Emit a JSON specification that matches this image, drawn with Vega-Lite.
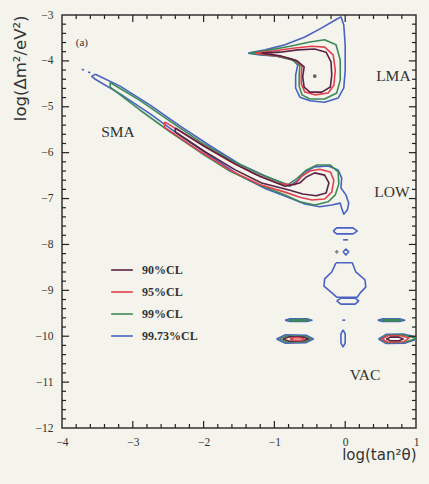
{
  "$schema": "https://vega.github.io/schema/vega-lite/v6.json",
  "width": 354,
  "height": 413,
  "autosize": {"type": "none"},
  "padding": {"left": 62, "top": 15, "right": 13, "bottom": 56},
  "background": "#f4f3ec",
  "config": {
    "view": {"stroke": "#333", "strokeWidth": 1.5},
    "axis": {"domain": false, "ticks": false, "tickSize": 0, "labelFont": "Liberation Serif", "labelFontSize": 11.5, "labelColor": "#333", "titleFont": "DejaVu Sans", "titleFontSize": 15, "titleFontWeight": "normal", "titleColor": "#333", "grid": false, "labelOverlap": false, "labelFlush": false},
    "rule": {"color": "#222", "strokeWidth": 1.2}
  },
  "datasets": {
    "contours": [
      {"c":"lma-b","l":"99.73%CL","x":-1.37,"y":-3.83},{"c":"lma-b","l":"99.73%CL","x":-1.13,"y":-3.76},{"c":"lma-b","l":"99.73%CL","x":-0.85,"y":-3.65},{"c":"lma-b","l":"99.73%CL","x":-0.57,"y":-3.48},{"c":"lma-b","l":"99.73%CL","x":-0.33,"y":-3.28},{"c":"lma-b","l":"99.73%CL","x":-0.14,"y":-3.11},{"c":"lma-b","l":"99.73%CL","x":-0.06,"y":-3.04},{"c":"lma-b","l":"99.73%CL","x":-0.02,"y":-3.22},{"c":"lma-b","l":"99.73%CL","x":0.0,"y":-3.65},{"c":"lma-b","l":"99.73%CL","x":0.0,"y":-4.2},{"c":"lma-b","l":"99.73%CL","x":-0.02,"y":-4.59},{"c":"lma-b","l":"99.73%CL","x":-0.1,"y":-4.81},{"c":"lma-b","l":"99.73%CL","x":-0.29,"y":-4.9},{"c":"lma-b","l":"99.73%CL","x":-0.5,"y":-4.87},{"c":"lma-b","l":"99.73%CL","x":-0.64,"y":-4.79},{"c":"lma-b","l":"99.73%CL","x":-0.7,"y":-4.59},{"c":"lma-b","l":"99.73%CL","x":-0.7,"y":-4.31},{"c":"lma-b","l":"99.73%CL","x":-0.67,"y":-4.09},{"c":"lma-b","l":"99.73%CL","x":-0.75,"y":-3.96},{"c":"lma-b","l":"99.73%CL","x":-0.99,"y":-3.89},{"c":"lma-b","l":"99.73%CL","x":-1.2,"y":-3.87},{"c":"lma-b","l":"99.73%CL","x":-1.37,"y":-3.83},
      {"c":"lma-g","l":"99%CL","x":-1.35,"y":-3.83},{"c":"lma-g","l":"99%CL","x":-1.06,"y":-3.76},{"c":"lma-g","l":"99%CL","x":-0.78,"y":-3.68},{"c":"lma-g","l":"99%CL","x":-0.5,"y":-3.59},{"c":"lma-g","l":"99%CL","x":-0.29,"y":-3.54},{"c":"lma-g","l":"99%CL","x":-0.13,"y":-3.65},{"c":"lma-g","l":"99%CL","x":-0.07,"y":-3.98},{"c":"lma-g","l":"99%CL","x":-0.07,"y":-4.42},{"c":"lma-g","l":"99%CL","x":-0.12,"y":-4.7},{"c":"lma-g","l":"99%CL","x":-0.29,"y":-4.83},{"c":"lma-g","l":"99%CL","x":-0.5,"y":-4.83},{"c":"lma-g","l":"99%CL","x":-0.61,"y":-4.74},{"c":"lma-g","l":"99%CL","x":-0.65,"y":-4.55},{"c":"lma-g","l":"99%CL","x":-0.65,"y":-4.31},{"c":"lma-g","l":"99%CL","x":-0.64,"y":-4.11},{"c":"lma-g","l":"99%CL","x":-0.75,"y":-3.98},{"c":"lma-g","l":"99%CL","x":-0.99,"y":-3.89},{"c":"lma-g","l":"99%CL","x":-1.35,"y":-3.83},
      {"c":"lma-r","l":"95%CL","x":-1.27,"y":-3.83},{"c":"lma-r","l":"95%CL","x":-0.99,"y":-3.78},{"c":"lma-r","l":"95%CL","x":-0.71,"y":-3.72},{"c":"lma-r","l":"95%CL","x":-0.47,"y":-3.68},{"c":"lma-r","l":"95%CL","x":-0.29,"y":-3.7},{"c":"lma-r","l":"95%CL","x":-0.17,"y":-3.87},{"c":"lma-r","l":"95%CL","x":-0.14,"y":-4.2},{"c":"lma-r","l":"95%CL","x":-0.16,"y":-4.53},{"c":"lma-r","l":"95%CL","x":-0.24,"y":-4.7},{"c":"lma-r","l":"95%CL","x":-0.43,"y":-4.74},{"c":"lma-r","l":"95%CL","x":-0.57,"y":-4.68},{"c":"lma-r","l":"95%CL","x":-0.62,"y":-4.5},{"c":"lma-r","l":"95%CL","x":-0.62,"y":-4.29},{"c":"lma-r","l":"95%CL","x":-0.61,"y":-4.11},{"c":"lma-r","l":"95%CL","x":-0.71,"y":-3.98},{"c":"lma-r","l":"95%CL","x":-0.95,"y":-3.89},{"c":"lma-r","l":"95%CL","x":-1.27,"y":-3.83},
      {"c":"lma-k","l":"90%CL","x":-1.18,"y":-3.83},{"c":"lma-k","l":"90%CL","x":-0.92,"y":-3.81},{"c":"lma-k","l":"90%CL","x":-0.67,"y":-3.76},{"c":"lma-k","l":"90%CL","x":-0.43,"y":-3.74},{"c":"lma-k","l":"90%CL","x":-0.27,"y":-3.81},{"c":"lma-k","l":"90%CL","x":-0.2,"y":-4.02},{"c":"lma-k","l":"90%CL","x":-0.19,"y":-4.31},{"c":"lma-k","l":"90%CL","x":-0.21,"y":-4.57},{"c":"lma-k","l":"90%CL","x":-0.33,"y":-4.68},{"c":"lma-k","l":"90%CL","x":-0.5,"y":-4.68},{"c":"lma-k","l":"90%CL","x":-0.58,"y":-4.57},{"c":"lma-k","l":"90%CL","x":-0.6,"y":-4.35},{"c":"lma-k","l":"90%CL","x":-0.58,"y":-4.13},{"c":"lma-k","l":"90%CL","x":-0.68,"y":-4.0},{"c":"lma-k","l":"90%CL","x":-0.92,"y":-3.89},{"c":"lma-k","l":"90%CL","x":-1.18,"y":-3.83},
      {"c":"low-b","l":"99.73%CL","x":-3.53,"y":-4.29},{"c":"low-b","l":"99.73%CL","x":-3.18,"y":-4.55},{"c":"low-b","l":"99.73%CL","x":-2.76,"y":-4.96},{"c":"low-b","l":"99.73%CL","x":-2.33,"y":-5.42},{"c":"low-b","l":"99.73%CL","x":-1.91,"y":-5.85},{"c":"low-b","l":"99.73%CL","x":-1.49,"y":-6.25},{"c":"low-b","l":"99.73%CL","x":-1.13,"y":-6.51},{"c":"low-b","l":"99.73%CL","x":-0.78,"y":-6.73},{"c":"low-b","l":"99.73%CL","x":-0.67,"y":-6.6},{"c":"low-b","l":"99.73%CL","x":-0.57,"y":-6.42},{"c":"low-b","l":"99.73%CL","x":-0.43,"y":-6.31},{"c":"low-b","l":"99.73%CL","x":-0.24,"y":-6.29},{"c":"low-b","l":"99.73%CL","x":-0.1,"y":-6.38},{"c":"low-b","l":"99.73%CL","x":-0.05,"y":-6.55},{"c":"low-b","l":"99.73%CL","x":-0.06,"y":-6.77},{"c":"low-b","l":"99.73%CL","x":0.01,"y":-6.92},{"c":"low-b","l":"99.73%CL","x":0.05,"y":-7.1},{"c":"low-b","l":"99.73%CL","x":0.03,"y":-7.25},{"c":"low-b","l":"99.73%CL","x":-0.02,"y":-7.34},{"c":"low-b","l":"99.73%CL","x":-0.05,"y":-7.21},{"c":"low-b","l":"99.73%CL","x":-0.07,"y":-7.1},{"c":"low-b","l":"99.73%CL","x":-0.19,"y":-7.14},{"c":"low-b","l":"99.73%CL","x":-0.36,"y":-7.18},{"c":"low-b","l":"99.73%CL","x":-0.57,"y":-7.12},{"c":"low-b","l":"99.73%CL","x":-0.78,"y":-6.99},{"c":"low-b","l":"99.73%CL","x":-1.13,"y":-6.78},{"c":"low-b","l":"99.73%CL","x":-1.49,"y":-6.5},{"c":"low-b","l":"99.73%CL","x":-1.91,"y":-6.07},{"c":"low-b","l":"99.73%CL","x":-2.33,"y":-5.63},{"c":"low-b","l":"99.73%CL","x":-2.76,"y":-5.15},{"c":"low-b","l":"99.73%CL","x":-3.18,"y":-4.72},{"c":"low-b","l":"99.73%CL","x":-3.53,"y":-4.4},{"c":"low-b","l":"99.73%CL","x":-3.58,"y":-4.34},{"c":"low-b","l":"99.73%CL","x":-3.53,"y":-4.29},
      {"c":"low-g","l":"99%CL","x":-3.32,"y":-4.47},{"c":"low-g","l":"99%CL","x":-2.9,"y":-4.86},{"c":"low-g","l":"99%CL","x":-2.47,"y":-5.32},{"c":"low-g","l":"99%CL","x":-2.05,"y":-5.76},{"c":"low-g","l":"99%CL","x":-1.63,"y":-6.15},{"c":"low-g","l":"99%CL","x":-1.2,"y":-6.47},{"c":"low-g","l":"99%CL","x":-0.81,"y":-6.7},{"c":"low-g","l":"99%CL","x":-0.67,"y":-6.55},{"c":"low-g","l":"99%CL","x":-0.55,"y":-6.38},{"c":"low-g","l":"99%CL","x":-0.4,"y":-6.27},{"c":"low-g","l":"99%CL","x":-0.21,"y":-6.27},{"c":"low-g","l":"99%CL","x":-0.1,"y":-6.42},{"c":"low-g","l":"99%CL","x":-0.09,"y":-6.68},{"c":"low-g","l":"99%CL","x":-0.14,"y":-6.92},{"c":"low-g","l":"99%CL","x":-0.24,"y":-7.07},{"c":"low-g","l":"99%CL","x":-0.43,"y":-7.14},{"c":"low-g","l":"99%CL","x":-0.64,"y":-7.07},{"c":"low-g","l":"99%CL","x":-0.85,"y":-6.92},{"c":"low-g","l":"99%CL","x":-1.2,"y":-6.71},{"c":"low-g","l":"99%CL","x":-1.63,"y":-6.4},{"c":"low-g","l":"99%CL","x":-2.05,"y":-5.99},{"c":"low-g","l":"99%CL","x":-2.47,"y":-5.55},{"c":"low-g","l":"99%CL","x":-2.9,"y":-5.07},{"c":"low-g","l":"99%CL","x":-3.32,"y":-4.57},{"c":"low-g","l":"99%CL","x":-3.32,"y":-4.47},
      {"c":"low-r","l":"95%CL","x":-2.55,"y":-5.33},{"c":"low-r","l":"95%CL","x":-2.05,"y":-5.8},{"c":"low-r","l":"95%CL","x":-1.63,"y":-6.19},{"c":"low-r","l":"95%CL","x":-1.27,"y":-6.47},{"c":"low-r","l":"95%CL","x":-0.92,"y":-6.68},{"c":"low-r","l":"95%CL","x":-0.71,"y":-6.7},{"c":"low-r","l":"95%CL","x":-0.61,"y":-6.51},{"c":"low-r","l":"95%CL","x":-0.5,"y":-6.4},{"c":"low-r","l":"95%CL","x":-0.36,"y":-6.36},{"c":"low-r","l":"95%CL","x":-0.21,"y":-6.42},{"c":"low-r","l":"95%CL","x":-0.16,"y":-6.6},{"c":"low-r","l":"95%CL","x":-0.19,"y":-6.86},{"c":"low-r","l":"95%CL","x":-0.29,"y":-7.01},{"c":"low-r","l":"95%CL","x":-0.47,"y":-7.03},{"c":"low-r","l":"95%CL","x":-0.64,"y":-6.97},{"c":"low-r","l":"95%CL","x":-0.85,"y":-6.86},{"c":"low-r","l":"95%CL","x":-1.2,"y":-6.7},{"c":"low-r","l":"95%CL","x":-1.63,"y":-6.38},{"c":"low-r","l":"95%CL","x":-2.05,"y":-5.97},{"c":"low-r","l":"95%CL","x":-2.55,"y":-5.45},{"c":"low-r","l":"95%CL","x":-2.55,"y":-5.33},
      {"c":"low-k","l":"90%CL","x":-2.4,"y":-5.46},{"c":"low-k","l":"90%CL","x":-1.98,"y":-5.87},{"c":"low-k","l":"90%CL","x":-1.56,"y":-6.24},{"c":"low-k","l":"90%CL","x":-1.2,"y":-6.52},{"c":"low-k","l":"90%CL","x":-0.85,"y":-6.73},{"c":"low-k","l":"90%CL","x":-0.64,"y":-6.66},{"c":"low-k","l":"90%CL","x":-0.55,"y":-6.53},{"c":"low-k","l":"90%CL","x":-0.43,"y":-6.44},{"c":"low-k","l":"90%CL","x":-0.29,"y":-6.49},{"c":"low-k","l":"90%CL","x":-0.23,"y":-6.66},{"c":"low-k","l":"90%CL","x":-0.27,"y":-6.88},{"c":"low-k","l":"90%CL","x":-0.41,"y":-6.94},{"c":"low-k","l":"90%CL","x":-0.6,"y":-6.9},{"c":"low-k","l":"90%CL","x":-0.78,"y":-6.82},{"c":"low-k","l":"90%CL","x":-1.18,"y":-6.66},{"c":"low-k","l":"90%CL","x":-1.56,"y":-6.37},{"c":"low-k","l":"90%CL","x":-1.98,"y":-5.98},{"c":"low-k","l":"90%CL","x":-2.4,"y":-5.55},{"c":"low-k","l":"90%CL","x":-2.4,"y":-5.46},
      {"c":"dot1","l":"99.73%CL","x":-3.72,"y":-4.18},{"c":"dot1","l":"99.73%CL","x":-3.69,"y":-4.2},
      {"c":"dot2","l":"99.73%CL","x":-3.63,"y":-4.24},{"c":"dot2","l":"99.73%CL","x":-3.6,"y":-4.26},
      {"c":"v-oval1","l":"99.73%CL","x":-0.17,"y":-7.71},{"c":"v-oval1","l":"99.73%CL","x":-0.12,"y":-7.64},{"c":"v-oval1","l":"99.73%CL","x":0.11,"y":-7.64},{"c":"v-oval1","l":"99.73%CL","x":0.17,"y":-7.71},{"c":"v-oval1","l":"99.73%CL","x":0.11,"y":-7.77},{"c":"v-oval1","l":"99.73%CL","x":-0.12,"y":-7.77},{"c":"v-oval1","l":"99.73%CL","x":-0.17,"y":-7.71},
      {"c":"v-dash","l":"99.73%CL","x":-0.03,"y":-7.9},{"c":"v-dash","l":"99.73%CL","x":0.04,"y":-7.9},
      {"c":"v-ring","l":"99.73%CL","x":-0.03,"y":-8.16},{"c":"v-ring","l":"99.73%CL","x":0.01,"y":-8.1},{"c":"v-ring","l":"99.73%CL","x":0.05,"y":-8.16},{"c":"v-ring","l":"99.73%CL","x":0.01,"y":-8.23},{"c":"v-ring","l":"99.73%CL","x":-0.03,"y":-8.16},
      {"c":"v-bell","l":"99.73%CL","x":-0.13,"y":-8.4},{"c":"v-bell","l":"99.73%CL","x":0.1,"y":-8.4},{"c":"v-bell","l":"99.73%CL","x":0.15,"y":-8.6},{"c":"v-bell","l":"99.73%CL","x":0.28,"y":-8.77},{"c":"v-bell","l":"99.73%CL","x":0.29,"y":-8.93},{"c":"v-bell","l":"99.73%CL","x":0.21,"y":-9.06},{"c":"v-bell","l":"99.73%CL","x":0.17,"y":-9.15},{"c":"v-bell","l":"99.73%CL","x":-0.12,"y":-9.15},{"c":"v-bell","l":"99.73%CL","x":-0.2,"y":-9.04},{"c":"v-bell","l":"99.73%CL","x":-0.3,"y":-8.91},{"c":"v-bell","l":"99.73%CL","x":-0.29,"y":-8.75},{"c":"v-bell","l":"99.73%CL","x":-0.19,"y":-8.6},{"c":"v-bell","l":"99.73%CL","x":-0.13,"y":-8.4},
      {"c":"v-oval2","l":"99.73%CL","x":-0.12,"y":-9.23},{"c":"v-oval2","l":"99.73%CL","x":-0.06,"y":-9.17},{"c":"v-oval2","l":"99.73%CL","x":0.14,"y":-9.17},{"c":"v-oval2","l":"99.73%CL","x":0.19,"y":-9.23},{"c":"v-oval2","l":"99.73%CL","x":0.14,"y":-9.3},{"c":"v-oval2","l":"99.73%CL","x":-0.06,"y":-9.3},{"c":"v-oval2","l":"99.73%CL","x":-0.12,"y":-9.23},
      {"c":"v-d1b","l":"99.73%CL","x":-0.85,"y":-9.65},{"c":"v-d1b","l":"99.73%CL","x":-0.78,"y":-9.62},{"c":"v-d1b","l":"99.73%CL","x":-0.54,"y":-9.62},{"c":"v-d1b","l":"99.73%CL","x":-0.47,"y":-9.65},{"c":"v-d1b","l":"99.73%CL","x":-0.54,"y":-9.68},{"c":"v-d1b","l":"99.73%CL","x":-0.78,"y":-9.68},{"c":"v-d1b","l":"99.73%CL","x":-0.85,"y":-9.65},
      {"c":"v-d1g","l":"99%CL","x":-0.8,"y":-9.65},{"c":"v-d1g","l":"99%CL","x":-0.74,"y":-9.635},{"c":"v-d1g","l":"99%CL","x":-0.58,"y":-9.635},{"c":"v-d1g","l":"99%CL","x":-0.52,"y":-9.65},{"c":"v-d1g","l":"99%CL","x":-0.58,"y":-9.665},{"c":"v-d1g","l":"99%CL","x":-0.74,"y":-9.665},{"c":"v-d1g","l":"99%CL","x":-0.8,"y":-9.65},
      {"c":"v-dot","l":"99.73%CL","x":-0.04,"y":-9.65},{"c":"v-dot","l":"99.73%CL","x":0.0,"y":-9.65},
      {"c":"v-d2b","l":"99.73%CL","x":0.46,"y":-9.65},{"c":"v-d2b","l":"99.73%CL","x":0.53,"y":-9.62},{"c":"v-d2b","l":"99.73%CL","x":0.77,"y":-9.62},{"c":"v-d2b","l":"99.73%CL","x":0.84,"y":-9.65},{"c":"v-d2b","l":"99.73%CL","x":0.77,"y":-9.68},{"c":"v-d2b","l":"99.73%CL","x":0.53,"y":-9.68},{"c":"v-d2b","l":"99.73%CL","x":0.46,"y":-9.65},
      {"c":"v-d2g","l":"99%CL","x":0.51,"y":-9.65},{"c":"v-d2g","l":"99%CL","x":0.57,"y":-9.635},{"c":"v-d2g","l":"99%CL","x":0.73,"y":-9.635},{"c":"v-d2g","l":"99%CL","x":0.79,"y":-9.65},{"c":"v-d2g","l":"99%CL","x":0.73,"y":-9.665},{"c":"v-d2g","l":"99%CL","x":0.57,"y":-9.665},{"c":"v-d2g","l":"99%CL","x":0.51,"y":-9.65},
      {"c":"v-l1b","l":"99.73%CL","x":-0.97,"y":-10.06},{"c":"v-l1b","l":"99.73%CL","x":-0.85,"y":-9.97},{"c":"v-l1b","l":"99.73%CL","x":-0.55,"y":-9.98},{"c":"v-l1b","l":"99.73%CL","x":-0.45,"y":-10.06},{"c":"v-l1b","l":"99.73%CL","x":-0.55,"y":-10.14},{"c":"v-l1b","l":"99.73%CL","x":-0.85,"y":-10.15},{"c":"v-l1b","l":"99.73%CL","x":-0.97,"y":-10.06},
      {"c":"v-l1g","l":"99%CL","x":-0.93,"y":-10.06},{"c":"v-l1g","l":"99%CL","x":-0.83,"y":-9.99},{"c":"v-l1g","l":"99%CL","x":-0.56,"y":-10.0},{"c":"v-l1g","l":"99%CL","x":-0.48,"y":-10.06},{"c":"v-l1g","l":"99%CL","x":-0.56,"y":-10.12},{"c":"v-l1g","l":"99%CL","x":-0.83,"y":-10.13},{"c":"v-l1g","l":"99%CL","x":-0.93,"y":-10.06},
      {"c":"v-l1k","l":"90%CL","x":-0.88,"y":-10.06},{"c":"v-l1k","l":"90%CL","x":-0.79,"y":-10.01},{"c":"v-l1k","l":"90%CL","x":-0.59,"y":-10.02},{"c":"v-l1k","l":"90%CL","x":-0.52,"y":-10.06},{"c":"v-l1k","l":"90%CL","x":-0.59,"y":-10.1},{"c":"v-l1k","l":"90%CL","x":-0.79,"y":-10.11},{"c":"v-l1k","l":"90%CL","x":-0.88,"y":-10.06},
      {"c":"v-l1r","l":"95%CL","x":-0.78,"y":-10.06},{"c":"v-l1r","l":"95%CL","x":-0.71,"y":-10.03},{"c":"v-l1r","l":"95%CL","x":-0.62,"y":-10.04},{"c":"v-l1r","l":"95%CL","x":-0.58,"y":-10.07},{"c":"v-l1r","l":"95%CL","x":-0.63,"y":-10.09},{"c":"v-l1r","l":"95%CL","x":-0.72,"y":-10.09},{"c":"v-l1r","l":"95%CL","x":-0.78,"y":-10.06},
      {"c":"v-cb","l":"99.73%CL","x":-0.03,"y":-9.86},{"c":"v-cb","l":"99.73%CL","x":0.0,"y":-9.95},{"c":"v-cb","l":"99.73%CL","x":0.0,"y":-10.15},{"c":"v-cb","l":"99.73%CL","x":-0.03,"y":-10.23},{"c":"v-cb","l":"99.73%CL","x":-0.06,"y":-10.15},{"c":"v-cb","l":"99.73%CL","x":-0.06,"y":-9.95},{"c":"v-cb","l":"99.73%CL","x":-0.03,"y":-9.86},
      {"c":"v-rb","l":"99.73%CL","x":0.47,"y":-10.06},{"c":"v-rb","l":"99.73%CL","x":0.58,"y":-9.96},{"c":"v-rb","l":"99.73%CL","x":0.82,"y":-9.95},{"c":"v-rb","l":"99.73%CL","x":1.0,"y":-10.02},{"c":"v-rb","l":"99.73%CL","x":1.0,"y":-10.07},{"c":"v-rb","l":"99.73%CL","x":0.85,"y":-10.15},{"c":"v-rb","l":"99.73%CL","x":0.58,"y":-10.16},{"c":"v-rb","l":"99.73%CL","x":0.47,"y":-10.06},
      {"c":"v-rg","l":"99%CL","x":0.5,"y":-10.06},{"c":"v-rg","l":"99%CL","x":0.59,"y":-9.98},{"c":"v-rg","l":"99%CL","x":0.81,"y":-9.97},{"c":"v-rg","l":"99%CL","x":0.98,"y":-10.03},{"c":"v-rg","l":"99%CL","x":0.98,"y":-10.06},{"c":"v-rg","l":"99%CL","x":0.84,"y":-10.13},{"c":"v-rg","l":"99%CL","x":0.59,"y":-10.14},{"c":"v-rg","l":"99%CL","x":0.5,"y":-10.06},
      {"c":"v-rr","l":"95%CL","x":0.52,"y":-10.06},{"c":"v-rr","l":"95%CL","x":0.6,"y":-9.99},{"c":"v-rr","l":"95%CL","x":0.79,"y":-9.99},{"c":"v-rr","l":"95%CL","x":0.9,"y":-10.04},{"c":"v-rr","l":"95%CL","x":0.83,"y":-10.12},{"c":"v-rr","l":"95%CL","x":0.6,"y":-10.13},{"c":"v-rr","l":"95%CL","x":0.52,"y":-10.06},
      {"c":"v-rk","l":"90%CL","x":0.58,"y":-10.06},{"c":"v-rk","l":"90%CL","x":0.64,"y":-10.02},{"c":"v-rk","l":"90%CL","x":0.76,"y":-10.02},{"c":"v-rk","l":"90%CL","x":0.82,"y":-10.06},{"c":"v-rk","l":"90%CL","x":0.76,"y":-10.1},{"c":"v-rk","l":"90%CL","x":0.64,"y":-10.1},{"c":"v-rk","l":"90%CL","x":0.58,"y":-10.06}
    ],
    "labels": [
      {"t":"(a)","x":-3.72,"y":-3.61,"s":11},
      {"t":"LMA","x":0.68,"y":-4.33,"s":15.5},
      {"t":"LOW","x":0.66,"y":-6.86,"s":15.5},
      {"t":"SMA","x":-3.21,"y":-5.55,"s":15.5},
      {"t":"VAC","x":0.28,"y":-10.84,"s":15.5}
    ],
    "fit": [{"x":-0.43,"y":-4.33}],
    "plus": [{"x":-0.12,"y":-8.16}],
    "xmaj": [{"v":-3},{"v":-2},{"v":-1},{"v":0}],
    "xmin": [{"v":-3.8},{"v":-3.6},{"v":-3.4},{"v":-3.2},{"v":-2.8},{"v":-2.6},{"v":-2.4},{"v":-2.2},{"v":-1.8},{"v":-1.6},{"v":-1.4},{"v":-1.2},{"v":-0.8},{"v":-0.6},{"v":-0.4},{"v":-0.2},{"v":0.2},{"v":0.4},{"v":0.6},{"v":0.8}],
    "ymaj": [{"v":-11},{"v":-10},{"v":-9},{"v":-8},{"v":-7},{"v":-6},{"v":-5},{"v":-4}],
    "ymin": [{"v":-11.8},{"v":-11.6},{"v":-11.4},{"v":-11.2},{"v":-10.8},{"v":-10.6},{"v":-10.4},{"v":-10.2},{"v":-9.8},{"v":-9.6},{"v":-9.4},{"v":-9.2},{"v":-8.8},{"v":-8.6},{"v":-8.4},{"v":-8.2},{"v":-7.8},{"v":-7.6},{"v":-7.4},{"v":-7.2},{"v":-6.8},{"v":-6.6},{"v":-6.4},{"v":-6.2},{"v":-5.8},{"v":-5.6},{"v":-5.4},{"v":-5.2},{"v":-4.8},{"v":-4.6},{"v":-4.4},{"v":-4.2},{"v":-3.8},{"v":-3.6},{"v":-3.4},{"v":-3.2}]
  },
  "layer": [
    {
      "data": {"name": "contours"},
      "mark": {"type": "line", "strokeWidth": 1.6, "clip": true, "strokeJoin": "round"},
      "encoding": {
        "x": {"field": "x", "type": "quantitative", "scale": {"domain": [-4, 1], "nice": false, "zero": false},
          "axis": {"orient": "bottom", "values": [-4,-3,-2,-1,0,1], "format": "d", "labelPadding": 8, "title": "log(tan²θ)", "titleAnchor": "end", "titlePadding": 0}},
        "y": {"field": "y", "type": "quantitative", "scale": {"domain": [-12, -3], "nice": false, "zero": false},
          "axis": {"orient": "left", "values": [-12,-11,-10,-9,-8,-7,-6,-5,-4,-3], "format": "d", "labelPadding": 9, "title": "log(Δm²/eV²)", "titleFontSize": 16.5, "titleAnchor": "end", "titlePadding": 7}},
        "color": {"field": "l", "type": "nominal",
          "scale": {"domain": ["90%CL", "95%CL", "99%CL", "99.73%CL"], "range": ["#5a2343", "#e0424c", "#3d8a58", "#4a62c4"]},
          "legend": {"orient": "none", "legendX": 48, "legendY": 243, "title": null, "symbolType": "stroke", "symbolSize": 470, "symbolStrokeWidth": 1.6, "labelFont": "Liberation Serif", "labelFontSize": 12, "labelFontWeight": "bold", "labelColor": "#333", "rowPadding": 4, "labelOffset": 8}},
        "detail": {"field": "c", "type": "nominal"},
        "order": {"value": null}
      }
    },
    {
      "data": {"name": "labels"},
      "mark": {"type": "text", "font": "Liberation Serif", "color": "#333", "align": "center", "baseline": "middle"},
      "encoding": {
        "x": {"field": "x", "type": "quantitative", "axis": null},
        "y": {"field": "y", "type": "quantitative", "axis": null},
        "text": {"field": "t", "type": "nominal"},
        "size": {"field": "s", "type": "quantitative", "scale": null}
      }
    },
    {
      "data": {"name": "fit"},
      "mark": {"type": "point", "filled": true, "color": "#222", "shape": "circle", "size": 14},
      "encoding": {
        "x": {"field": "x", "type": "quantitative", "axis": null},
        "y": {"field": "y", "type": "quantitative", "axis": null}
      }
    },
    {
      "data": {"name": "plus"},
      "mark": {"type": "point", "filled": true, "color": "#555", "shape": "cross", "size": 14},
      "encoding": {
        "x": {"field": "x", "type": "quantitative", "axis": null},
        "y": {"field": "y", "type": "quantitative", "axis": null}
      }
    },
    {
      "data": {"name": "xmaj"},
      "mark": {"type": "rule"},
      "encoding": {"x": {"field": "v", "type": "quantitative", "axis": null}, "y": {"datum": -12, "type": "quantitative", "axis": null}, "y2": {"datum": -11.85}}
    },
    {
      "data": {"name": "xmaj"},
      "mark": {"type": "rule"},
      "encoding": {"x": {"field": "v", "type": "quantitative", "axis": null}, "y": {"datum": -3, "type": "quantitative", "axis": null}, "y2": {"datum": -3.15}}
    },
    {
      "data": {"name": "xmin"},
      "mark": {"type": "rule"},
      "encoding": {"x": {"field": "v", "type": "quantitative", "axis": null}, "y": {"datum": -12, "type": "quantitative", "axis": null}, "y2": {"datum": -11.913}}
    },
    {
      "data": {"name": "xmin"},
      "mark": {"type": "rule"},
      "encoding": {"x": {"field": "v", "type": "quantitative", "axis": null}, "y": {"datum": -3, "type": "quantitative", "axis": null}, "y2": {"datum": -3.087}}
    },
    {
      "data": {"name": "ymaj"},
      "mark": {"type": "rule"},
      "encoding": {"y": {"field": "v", "type": "quantitative", "axis": null}, "x": {"datum": -4, "type": "quantitative", "axis": null}, "x2": {"datum": -3.9}}
    },
    {
      "data": {"name": "ymaj"},
      "mark": {"type": "rule"},
      "encoding": {"y": {"field": "v", "type": "quantitative", "axis": null}, "x": {"datum": 1, "type": "quantitative", "axis": null}, "x2": {"datum": 0.9}}
    },
    {
      "data": {"name": "ymin"},
      "mark": {"type": "rule"},
      "encoding": {"y": {"field": "v", "type": "quantitative", "axis": null}, "x": {"datum": -4, "type": "quantitative", "axis": null}, "x2": {"datum": -3.943}}
    },
    {
      "data": {"name": "ymin"},
      "mark": {"type": "rule"},
      "encoding": {"y": {"field": "v", "type": "quantitative", "axis": null}, "x": {"datum": 1, "type": "quantitative", "axis": null}, "x2": {"datum": 0.943}}
    }
  ],
  "resolve": {"axis": {"x": "independent", "y": "independent"}}
}
